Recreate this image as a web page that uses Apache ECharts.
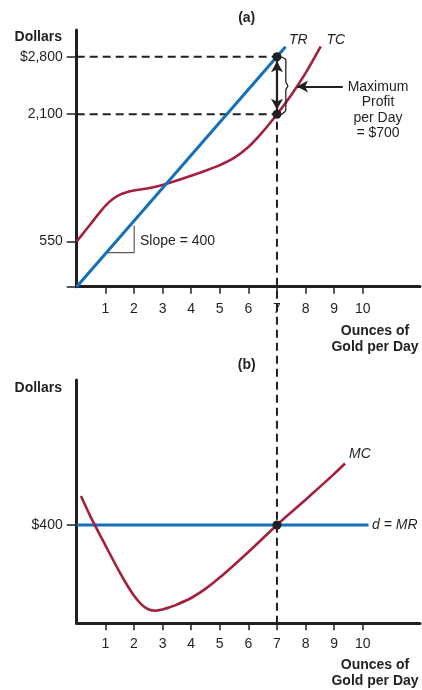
<!DOCTYPE html>
<html>
<head>
<meta charset="utf-8">
<script src="https://cdn.jsdelivr.net/npm/echarts@6/dist/echarts.min.js"></script>
<style>
html,body{margin:0;padding:0;background:#fff;}
#c{width:422px;height:690px;}
</style>
</head>
<body>
<div id="c"></div>
<script>
// ---- data ----
const xTickValues = [1, 2, 3, 4, 5, 6, 7, 8, 9, 10];
const topYTickValues = [0, 550, 2100, 2800];
const topYTickLabels = ['', '550', '2,100', '$2,800'];
const botYTickValues = [400];
const botYTickLabels = ['$400'];

const trX = [0, 7.3];
const trY = [0, 2920];

const tcX = [0, 0.25, 0.5, 0.75, 1.0, 1.25, 1.5, 1.75, 2.0, 2.5, 3.0, 3.5, 4.0, 4.5, 5.0, 5.5, 6.0, 6.5, 7.0, 7.5, 8.0, 8.53];
const tcY = [550, 660, 770, 880, 985, 1065, 1118, 1150, 1170, 1198, 1238, 1292, 1350, 1412, 1480, 1568, 1700, 1885, 2100, 2335, 2600, 2925];

const mcX = [0.15, 0.5, 1.0, 1.5, 1.75, 2.0, 2.25, 2.5, 2.75, 3.0, 3.25, 3.5, 4.0, 4.5, 5.0, 5.5, 6.0, 6.5, 7.0, 7.5, 8.0, 8.5, 9.0, 9.38];
const mcY = [518, 430, 318, 208, 158, 113, 78, 57, 51, 56, 65, 76, 103, 140, 186, 237, 290, 345, 400, 452, 503, 555, 608, 650];

const mrX = [0, 10.2];
const mrY = [400, 400];

const qStar = 7;
const trStar = 2800;
const tcStar = 2100;
const priceStar = 400;
const profitPointerY = 2436;
const profitPointerX = [9.3, 7.7];
const slopeX = [1.05, 2.01, 2.01];
const slopeY = [415, 415, 745];
const braceX = [7.11, 7.31, 7.31, 7.38, 7.31, 7.31, 7.11];
const braceY = [2800, 2760, 2496, 2444, 2395, 2152, 2090];

// ---- styles ----
const BLUE = '#1470b8';
const RED = '#a3203f';
const INK = '#231f20';
const FONT = '"Liberation Sans", Arial, Helvetica, sans-serif';

const zip = (xs, ys) => xs.map((x, i) => [x, ys[i]]);

const chart = echarts.init(document.getElementById('c'), null, {renderer: 'canvas'});

function xAxisCfg(gridIndex, margin) {
  return {
    type: 'value', gridIndex, min: 0, max: 12,
    axisLine: {show: true, onZero: false, lineStyle: {color: INK, width: 3}},
    axisTick: {show: true, customValues: xTickValues, length: 7, lineStyle: {color: INK, width: 1.5}},
    axisLabel: {show: true, customValues: xTickValues, margin, color: INK, fontSize: 14, fontFamily: FONT},
    splitLine: {show: false}
  };
}
function yAxisCfg(gridIndex, max, vals, labels) {
  return {
    type: 'value', gridIndex, min: 0, max,
    axisLine: {show: true, onZero: false, lineStyle: {color: INK, width: 3}},
    axisTick: {show: true, customValues: vals, length: 10, lineStyle: {color: INK, width: 1.5}},
    axisLabel: {show: true, customValues: vals, margin: 14, color: INK, fontSize: 14, fontFamily: FONT,
      formatter: v => { const i = vals.indexOf(v); return i >= 0 ? labels[i] : ''; }},
    splitLine: {show: false}
  };
}

const dashStyle = {color: INK, width: 2, type: [8, 5]};

const option = {
  animation: false,
  backgroundColor: '#fff',
  grid: [
    {left: 76.7, right: 2, top: 30, height: 256.7},
    {left: 76.7, right: 2, top: 380, height: 243.3}
  ],
  xAxis: [xAxisCfg(0, 15), xAxisCfg(1, 14)],
  yAxis: [yAxisCfg(0, 3125, topYTickValues, topYTickLabels), yAxisCfg(1, 990, botYTickValues, botYTickLabels)],
  series: [
    {type: 'line', xAxisIndex: 0, yAxisIndex: 0, data: [[0, trStar], [qStar, trStar]], symbol: 'none', lineStyle: dashStyle, z: 1},
    {type: 'line', xAxisIndex: 0, yAxisIndex: 0, data: [[0, tcStar], [qStar, tcStar]], symbol: 'none', lineStyle: dashStyle, z: 1},
    {type: 'line', name: 'TC', xAxisIndex: 0, yAxisIndex: 0, data: zip(tcX, tcY), smooth: 0.3, symbol: 'none',
      lineStyle: {color: RED, width: 2.6}, z: 3},
    {type: 'line', name: 'TR', xAxisIndex: 0, yAxisIndex: 0, data: zip(trX, trY), symbol: 'none',
      lineStyle: {color: BLUE, width: 3}, z: 4},
    {type: 'line', xAxisIndex: 0, yAxisIndex: 0, data: zip(slopeX, slopeY), symbol: 'none',
      lineStyle: {color: '#5a5a5c', width: 1.2}, z: 2},
    {type: 'line', xAxisIndex: 0, yAxisIndex: 0, data: zip(braceX, braceY), symbol: 'none', smooth: 0.25,
      lineStyle: {color: INK, width: 1.3}, z: 5},
    {type: 'line', xAxisIndex: 0, yAxisIndex: 0, data: [], symbol: 'none', z: 6,
      markLine: {
        silent: true, animation: false,
        symbol: ['arrow', 'arrow'], symbolSize: [9, 11],
        label: {show: false},
        lineStyle: {color: INK, width: 2.2, type: 'solid'},
        data: [
          [{coord: [qStar, 2745]}, {coord: [qStar, 2155]}],
          [{coord: [profitPointerX[0], profitPointerY], symbol: 'none'}, {coord: [profitPointerX[1], profitPointerY], symbol: 'arrow'}]
        ]
      }},
    {type: 'scatter', xAxisIndex: 0, yAxisIndex: 0, data: [[qStar, trStar], [qStar, tcStar]], symbolSize: 9,
      itemStyle: {color: INK, opacity: 1}, z: 10},
    {type: 'line', name: 'MR', xAxisIndex: 1, yAxisIndex: 1, data: zip(mrX, mrY), symbol: 'none',
      lineStyle: {color: BLUE, width: 3}, z: 3},
    {type: 'line', name: 'MC', xAxisIndex: 1, yAxisIndex: 1, data: zip(mcX, mcY), smooth: 0.3, symbol: 'none',
      lineStyle: {color: RED, width: 2.6}, z: 4},
    {type: 'scatter', xAxisIndex: 1, yAxisIndex: 1, data: [[qStar, priceStar]], symbolSize: 9,
      itemStyle: {color: INK, opacity: 1}, z: 10}
  ]
};
chart.setOption(option);

const pTop = chart.convertToPixel({xAxisIndex: 0, yAxisIndex: 0}, [qStar, trStar]);
const pBot = chart.convertToPixel({xAxisIndex: 1, yAxisIndex: 1}, [qStar, 0]);

const txt = (x, y, text, extra) => Object.assign({
  type: 'text', x, y,
  style: Object.assign({text, fill: INK, font: '14px ' + FONT, textAlign: 'left', textVerticalAlign: 'middle'}, extra || {})
}, {z: 20});

chart.setOption({
  graphic: [
    {type: 'line', z: 0, zlevel: 0, silent: true,
      shape: {x1: pTop[0], y1: pTop[1], x2: pBot[0], y2: pBot[1]},
      style: {stroke: INK, lineWidth: 2, lineDash: [8, 5]}},
    txt(246.7, 18, '(a)', {font: 'bold 14px ' + FONT, textAlign: 'center'}),
    txt(62, 37, 'Dollars', {font: 'bold 14px ' + FONT, textAlign: 'right'}),
    txt(289, 40, 'TR', {font: 'italic 14px ' + FONT}),
    txt(326.5, 40, 'TC', {font: 'italic 14px ' + FONT}),
    txt(378, 86.7, 'Maximum', {textAlign: 'center'}),
    txt(378, 102, 'Profit', {textAlign: 'center'}),
    txt(378, 118, 'per Day', {textAlign: 'center'}),
    txt(378, 133.5, '= $700', {textAlign: 'center'}),
    txt(140, 241, 'Slope = 400'),
    txt(375, 331, 'Ounces of', {font: 'bold 14px ' + FONT, textAlign: 'center'}),
    txt(375, 347, 'Gold per Day', {font: 'bold 14px ' + FONT, textAlign: 'center'}),
    txt(246.7, 365, '(b)', {font: 'bold 14px ' + FONT, textAlign: 'center'}),
    txt(62, 388, 'Dollars', {font: 'bold 14px ' + FONT, textAlign: 'right'}),
    txt(349, 454.3, 'MC', {font: 'italic 14px ' + FONT}),
    txt(372, 525, 'd = MR', {font: 'italic 14px ' + FONT}),
    txt(375, 665, 'Ounces of', {font: 'bold 14px ' + FONT, textAlign: 'center'}),
    txt(375, 681, 'Gold per Day', {font: 'bold 14px ' + FONT, textAlign: 'center'})
  ]
});
</script>
</body>
</html>
